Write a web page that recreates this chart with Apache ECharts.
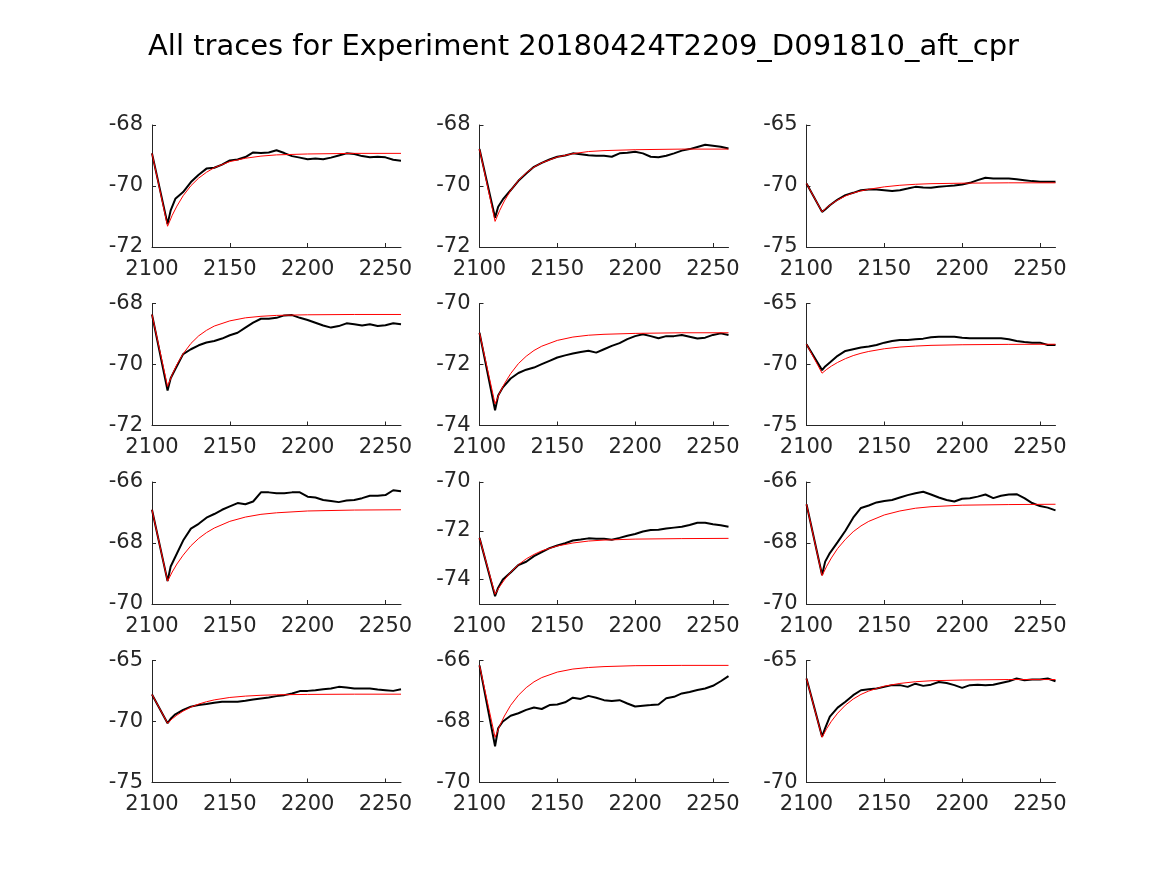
<!DOCTYPE html>
<html>
<head>
<meta charset="utf-8">
<script src="https://cdn.jsdelivr.net/npm/echarts@6/dist/echarts.min.js"></script>
<style>
html,body{margin:0;padding:0;background:#fff;}
#chart{width:1167px;height:875px;}
</style>
</head>
<body>
<div id="chart"></div>
<script>
const titleText = 'All traces for Experiment 20180424T2209_D091810_aft_cpr';
const xTicks = [2100, 2150, 2200, 2250];
const xTrace = [2100, 2110, 2112, 2115, 2120, 2125, 2130, 2135, 2140, 2145, 2150, 2155, 2160, 2165, 2170, 2175, 2180, 2185, 2190, 2195, 2200, 2205, 2210, 2215, 2220, 2225, 2230, 2235, 2240, 2245, 2250, 2255, 2260];
const xFit = [2100, 2110, 2113, 2116, 2120, 2125, 2130, 2135, 2140, 2150, 2160, 2170, 2180, 2200, 2230, 2260];

const trace1 = [-68.93, -71.25, -70.80, -70.42, -70.20, -69.87, -69.63, -69.43, -69.40, -69.30, -69.16, -69.13, -69.05, -68.90, -68.92, -68.90, -68.83, -68.92, -69.02, -69.07, -69.12, -69.10, -69.12, -69.07, -69.00, -68.93, -68.95, -69.02, -69.06, -69.04, -69.06, -69.14, -69.17];
const fit1 = [-68.93, -71.32, -70.96, -70.66, -70.32, -69.99, -69.74, -69.55, -69.40, -69.20, -69.09, -69.02, -68.98, -68.95, -68.93, -68.93];

const trace2 = [-68.79, -71.04, -70.68, -70.44, -70.14, -69.83, -69.59, -69.37, -69.24, -69.13, -69.04, -69.00, -68.93, -68.96, -68.99, -69.01, -69.01, -69.04, -68.93, -68.91, -68.88, -68.93, -69.04, -69.06, -69.01, -68.93, -68.84, -68.79, -68.72, -68.65, -68.68, -68.71, -68.77];
const fit2 = [-68.79, -71.16, -70.80, -70.49, -70.15, -69.82, -69.57, -69.38, -69.24, -69.05, -68.94, -68.87, -68.84, -68.81, -68.79, -68.79];

const trace3 = [-69.79, -72.12, -71.93, -71.58, -71.11, -70.75, -70.56, -70.34, -70.29, -70.29, -70.34, -70.40, -70.34, -70.21, -70.07, -70.12, -70.15, -70.07, -70.01, -69.96, -69.88, -69.74, -69.52, -69.33, -69.38, -69.38, -69.38, -69.44, -69.52, -69.60, -69.66, -69.66, -69.66];
const fit3 = [-69.79, -72.12, -71.77, -71.48, -71.15, -70.82, -70.57, -70.40, -70.27, -70.07, -69.94, -69.86, -69.81, -69.77, -69.74, -69.74];

const trace4 = [-68.36, -70.85, -70.45, -70.15, -69.66, -69.50, -69.37, -69.28, -69.23, -69.15, -69.04, -68.96, -68.79, -68.63, -68.50, -68.50, -68.47, -68.39, -68.38, -68.47, -68.54, -68.63, -68.72, -68.79, -68.74, -68.65, -68.68, -68.72, -68.68, -68.74, -68.71, -68.65, -68.68];
const fit4 = [-68.36, -70.72, -70.33, -70.00, -69.65, -69.31, -69.06, -68.88, -68.74, -68.57, -68.47, -68.42, -68.39, -68.37, -68.36, -68.36];

const trace5 = [-70.96, -73.50, -73.02, -72.75, -72.46, -72.28, -72.17, -72.10, -71.99, -71.88, -71.77, -71.70, -71.64, -71.59, -71.55, -71.61, -71.50, -71.39, -71.30, -71.17, -71.07, -71.01, -71.07, -71.14, -71.07, -71.07, -71.03, -71.09, -71.15, -71.12, -71.03, -70.98, -71.03];
const fit5 = [-70.96, -73.29, -72.93, -72.63, -72.30, -71.97, -71.73, -71.54, -71.40, -71.21, -71.10, -71.04, -71.01, -70.98, -70.96, -70.96];

const trace6 = [-68.34, -70.46, -70.16, -69.84, -69.29, -68.89, -68.75, -68.61, -68.53, -68.40, -68.21, -68.07, -67.99, -67.99, -67.93, -67.88, -67.77, -67.72, -67.72, -67.72, -67.80, -67.85, -67.85, -67.85, -67.85, -67.85, -67.93, -68.07, -68.15, -68.21, -68.21, -68.40, -68.40];
const fit6 = [-68.34, -70.71, -70.40, -70.13, -69.83, -69.52, -69.27, -69.08, -68.93, -68.71, -68.57, -68.49, -68.43, -68.38, -68.35, -68.34];

const trace7 = [-66.91, -69.25, -68.77, -68.45, -67.92, -67.53, -67.37, -67.17, -67.05, -66.91, -66.80, -66.69, -66.73, -66.64, -66.34, -66.34, -66.37, -66.37, -66.34, -66.34, -66.48, -66.51, -66.59, -66.62, -66.66, -66.61, -66.59, -66.53, -66.45, -66.45, -66.43, -66.27, -66.30];
const fit7 = [-66.91, -69.25, -68.95, -68.69, -68.40, -68.09, -67.85, -67.66, -67.51, -67.29, -67.15, -67.06, -67.01, -66.95, -66.92, -66.91];

const trace8 = [-72.29, -74.68, -74.33, -74.00, -73.71, -73.40, -73.27, -73.04, -72.87, -72.71, -72.60, -72.51, -72.40, -72.36, -72.31, -72.33, -72.33, -72.37, -72.29, -72.20, -72.13, -72.03, -71.97, -71.96, -71.91, -71.87, -71.83, -71.76, -71.67, -71.67, -71.73, -71.77, -71.83];
const fit8 = [-72.29, -74.60, -74.28, -74.01, -73.70, -73.39, -73.15, -72.97, -72.82, -72.62, -72.50, -72.42, -72.38, -72.34, -72.32, -72.31];

const trace9 = [-66.73, -69.05, -68.61, -68.33, -67.97, -67.60, -67.17, -66.85, -66.77, -66.67, -66.62, -66.59, -66.51, -66.43, -66.37, -66.32, -66.41, -66.51, -66.59, -66.64, -66.55, -66.53, -66.48, -66.41, -66.53, -66.45, -66.41, -66.40, -66.53, -66.69, -66.79, -66.84, -66.93];
const fit9 = [-66.73, -69.07, -68.76, -68.49, -68.18, -67.88, -67.63, -67.44, -67.29, -67.08, -66.95, -66.86, -66.81, -66.76, -66.74, -66.73];

const trace10 = [-67.78, -70.14, -69.78, -69.41, -69.05, -68.78, -68.65, -68.57, -68.46, -68.38, -68.38, -68.38, -68.30, -68.19, -68.11, -68.03, -67.92, -67.84, -67.70, -67.51, -67.49, -67.43, -67.35, -67.30, -67.16, -67.22, -67.30, -67.30, -67.30, -67.38, -67.43, -67.49, -67.35];
const fit10 = [-67.78, -70.14, -69.78, -69.48, -69.15, -68.82, -68.57, -68.38, -68.23, -68.03, -67.92, -67.85, -67.81, -67.78, -67.76, -67.76];

const trace11 = [-66.16, -68.81, -68.22, -68.00, -67.81, -67.73, -67.62, -67.54, -67.59, -67.46, -67.44, -67.37, -67.22, -67.26, -67.16, -67.22, -67.30, -67.33, -67.30, -67.41, -67.51, -67.48, -67.46, -67.44, -67.24, -67.19, -67.08, -67.03, -66.97, -66.92, -66.83, -66.68, -66.51];
const fit11 = [-66.16, -68.52, -68.14, -67.82, -67.47, -67.14, -66.89, -66.70, -66.56, -66.38, -66.28, -66.23, -66.20, -66.17, -66.16, -66.16];

const trace12 = [-65.74, -68.12, -67.77, -67.30, -66.93, -66.69, -66.42, -66.22, -66.18, -66.15, -66.08, -66.01, -66.01, -66.08, -65.95, -66.04, -65.99, -65.88, -65.92, -66.01, -66.12, -66.01, -65.99, -66.01, -65.99, -65.92, -65.85, -65.74, -65.81, -65.78, -65.78, -65.74, -65.85];
const fit12 = [-65.74, -68.15, -67.79, -67.49, -67.16, -66.83, -66.58, -66.39, -66.25, -66.05, -65.94, -65.87, -65.83, -65.80, -65.78, -65.78];

const yMin = [-72, -72, -75, -72, -74, -75, -70, -75, -70, -75, -70, -70];
const yMax = [-68, -68, -65, -68, -70, -65, -66, -70, -66, -65, -66, -65];
const yTicks = [
  [-72, -70, -68], [-72, -70, -68], [-75, -70, -65],
  [-72, -70, -68], [-74, -72, -70], [-75, -70, -65],
  [-70, -68, -66], [-74, -72, -70], [-70, -68, -66],
  [-75, -70, -65], [-70, -68, -66], [-70, -65]
];

const traces = [trace1, trace2, trace3, trace4, trace5, trace6, trace7, trace8, trace9, trace10, trace11, trace12];
const fits = [fit1, fit2, fit3, fit4, fit5, fit6, fit7, fit8, fit9, fit10, fit11, fit12];

// layout
const colLeft = [152, 479.5, 806.5];
const rowTop = [125, 303.5, 482, 660.5];
const gw = 249, gh = 122;
const textColor = '#262626';
const fontFam = 'DejaVu Sans';

const grids = [], xAxes = [], yAxes = [], series = [];
for (let i = 0; i < 12; i++) {
  const r = Math.floor(i / 3), c = i % 3;
  grids.push({left: colLeft[c], top: rowTop[r], width: gw, height: gh, containLabel: false});
  xAxes.push({
    type: 'value', gridIndex: i, min: 2100, max: 2260,
    axisLine: {show: true, onZero: false, lineStyle: {color: textColor, width: 1}},
    axisTick: {show: true, inside: true, length: 4, customValues: xTicks, lineStyle: {color: textColor}},
    axisLabel: {show: true, customValues: xTicks, color: textColor, fontSize: 21, fontFamily: fontFam, margin: 12,
      formatter: v => String(v)},
    splitLine: {show: false}
  });
  yAxes.push({
    type: 'value', gridIndex: i, min: yMin[i], max: yMax[i],
    axisLine: {show: true, onZero: false, lineStyle: {color: textColor, width: 1}},
    axisTick: {show: true, inside: true, length: 4, customValues: yTicks[i], lineStyle: {color: textColor}},
    axisLabel: {show: true, customValues: yTicks[i], color: textColor, fontSize: 21, fontFamily: fontFam, margin: 9,
      formatter: v => String(v)},
    splitLine: {show: false}
  });
  series.push({
    type: 'line', xAxisIndex: i, yAxisIndex: i, showSymbol: false, symbol: 'none',
    data: xTrace.map((x, k) => [x, traces[i][k]]),
    lineStyle: {color: '#000000', width: 2}, z: 2
  });
  series.push({
    type: 'line', xAxisIndex: i, yAxisIndex: i, showSymbol: false, symbol: 'none',
    data: xFit.map((x, k) => [x, fits[i][k]]),
    lineStyle: {color: '#ff0000', width: 1}, z: 3
  });
}

const chart = echarts.init(document.getElementById('chart'), null, {renderer: 'canvas'});
chart.setOption({
  animation: false,
  backgroundColor: '#ffffff',
  title: {
    text: titleText, left: 'center', top: 28,
    textStyle: {color: '#000000', fontSize: 29, fontWeight: 'normal', fontFamily: fontFam}
  },
  grid: grids, xAxis: xAxes, yAxis: yAxes, series: series
});
</script>
</body>
</html>
